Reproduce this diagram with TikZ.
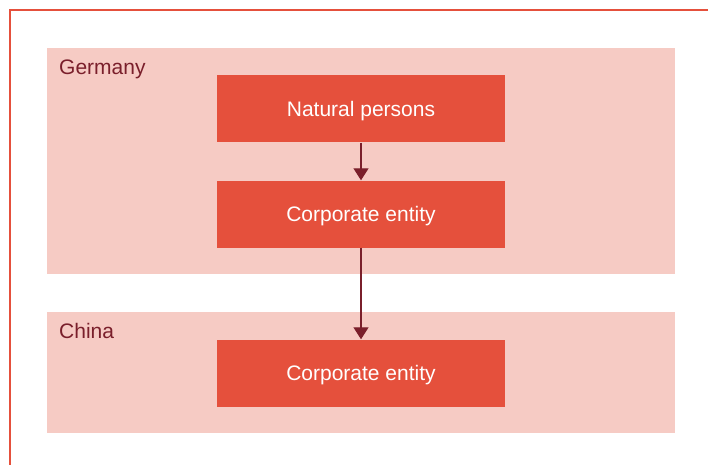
\documentclass[tikz,border=0pt]{standalone}
\usepackage{fontspec}
\setmainfont{Liberation Sans}
\usetikzlibrary{arrows.meta}
\definecolor{accent}{HTML}{E5503C}
\definecolor{pale}{HTML}{F6CBC4}
\definecolor{wine}{HTML}{7A1F2B}
\tikzset{
  region/.style={fill=pale, draw=none},
  entity/.style={fill=accent, draw=none, minimum width=288pt, minimum height=67pt,
    inner sep=0pt, text height=15pt, text depth=0pt, text=white,
    font=\fontsize{21}{25}\selectfont},
  regionlabel/.style={anchor=base west, text=wine, inner sep=0pt, font=\fontsize{21}{25}\selectfont},
  link/.style={draw=wine, line width=1.3pt, -{Triangle[width=15pt,length=12pt]}},
}
\begin{document}
\begin{tikzpicture}[x=1pt,y=-1pt]
  \useasboundingbox (0,0) rectangle (708,465);
  % outer frame (top and left edges)
  \draw[accent, line width=2pt] (708,10) -- (10,10) -- (10,465);
  % country regions
  \fill[region] (47,48) rectangle (675,274);
  \fill[region] (47,312) rectangle (675,433);
  \node[regionlabel] (de) at (59,75) {Germany};
  \node[regionlabel] (cn) at (59,338) {China};
  % entities
  \node[entity] (np) at (361,109) {Natural persons};
  \node[entity] (ce1) at (361,214) {Corporate entity};
  \node[entity] (ce2) at (361,373) {Corporate entity};
  % ownership links
  \draw[link] (np.south) -- (ce1.north);
  \draw[link] (ce1.south) -- (ce2.north);
\end{tikzpicture}
\end{document}
